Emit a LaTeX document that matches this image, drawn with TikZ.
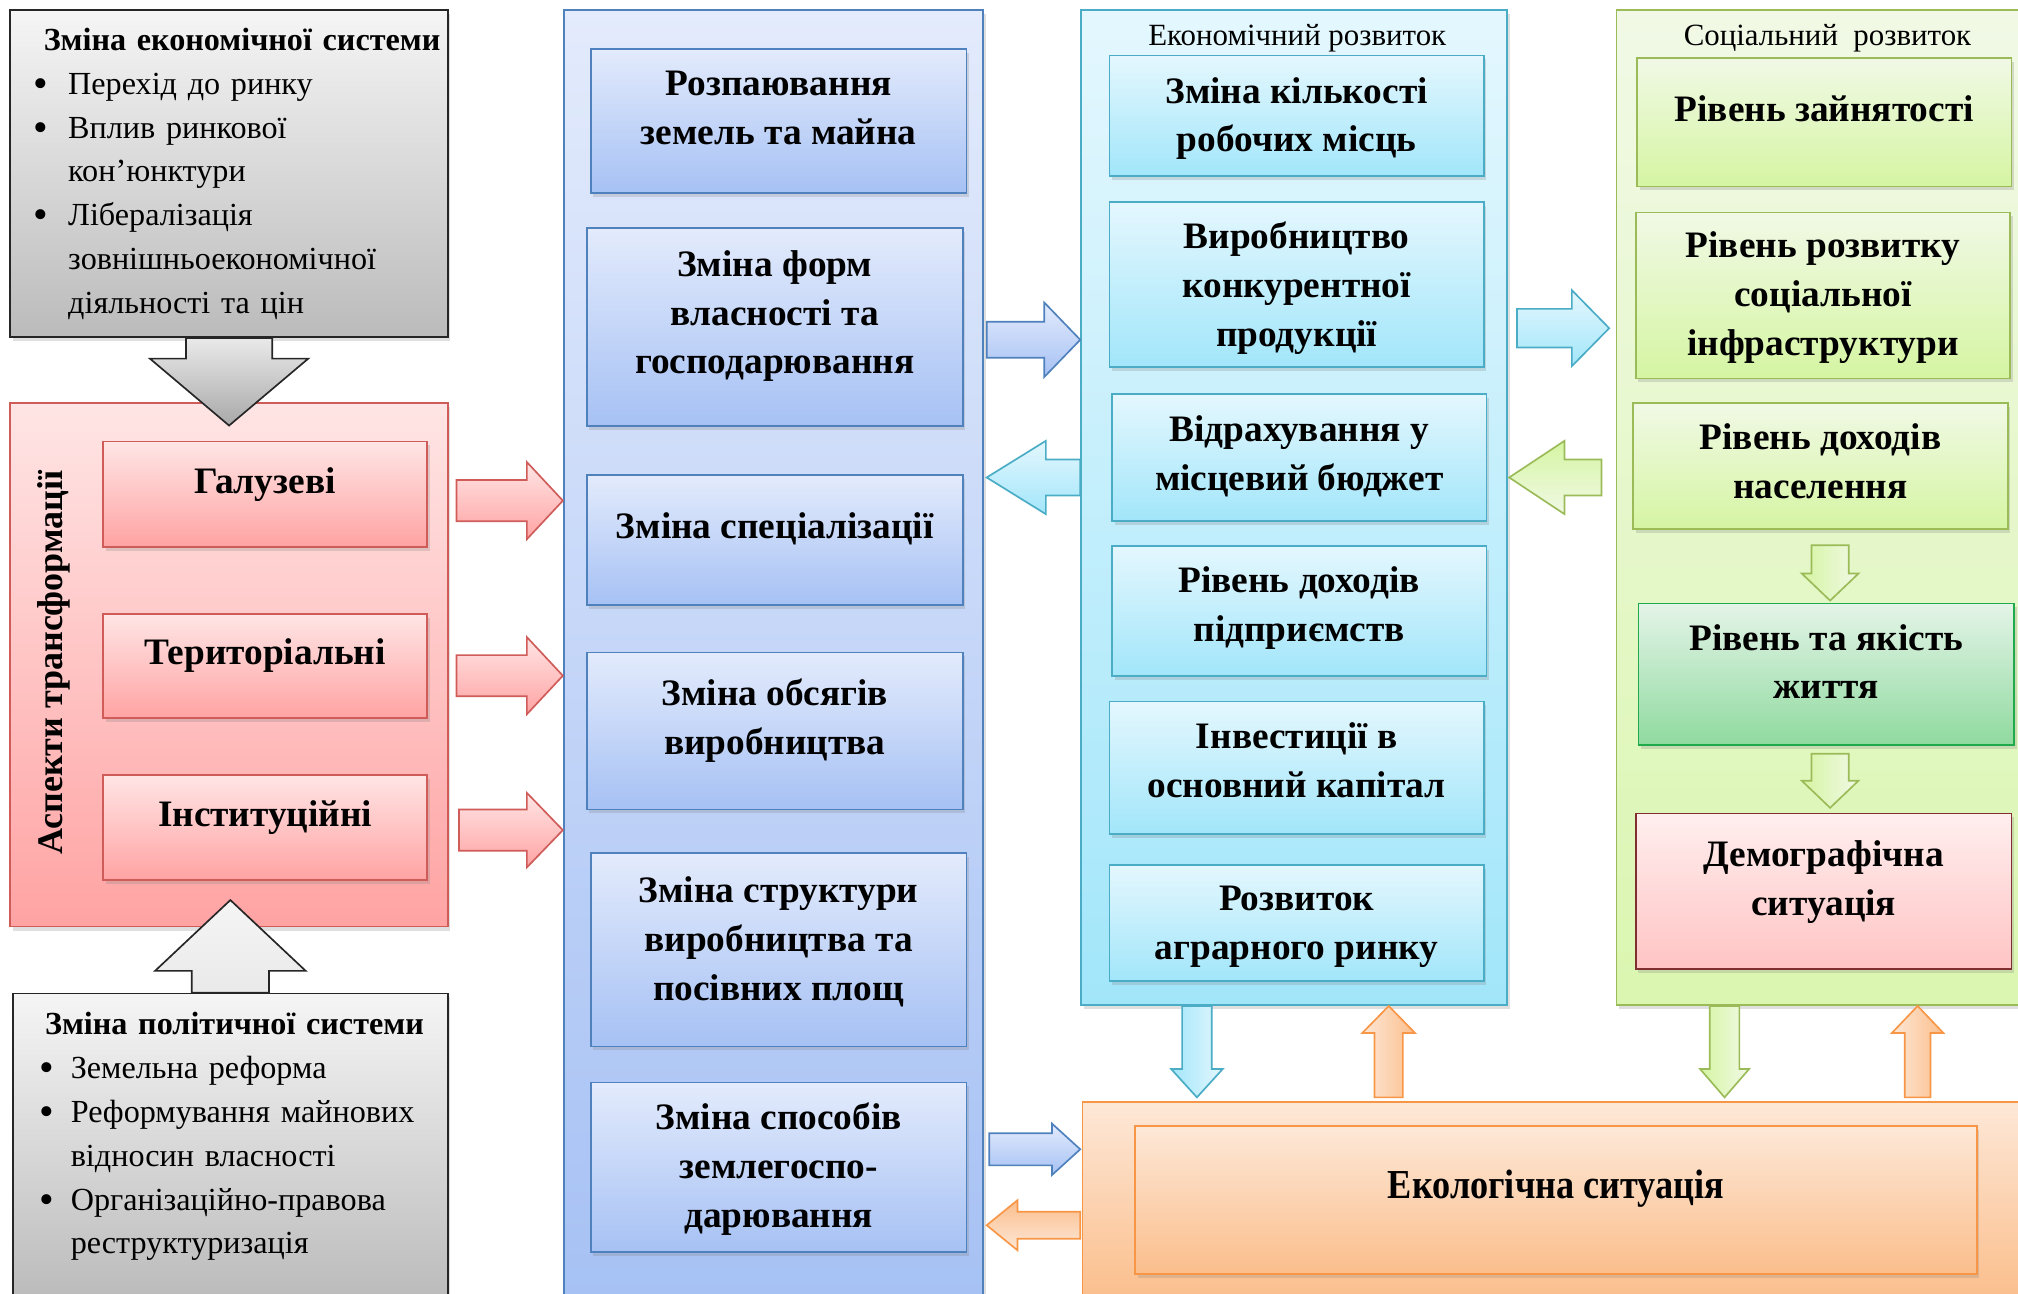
\documentclass[tikz,border=0pt]{standalone}
\usepackage{fontspec}
\setmainfont{Liberation Serif}
\newfontfamily\narrowfont[FakeStretch=0.88]{Liberation Serif}
\usetikzlibrary{calc,shadows}

\definecolor{redtop}{HTML}{FFE5E5}
\definecolor{redbot}{HTML}{FFA3A3}
\definecolor{redline}{HTML}{CF5C59}
\definecolor{graytop}{HTML}{F5F5F5}
\definecolor{graybot}{HTML}{BBBBBB}
\definecolor{grayline}{HTML}{262626}
\definecolor{bluetop}{HTML}{E3EBFC}
\definecolor{bluebot}{HTML}{A6C1F4}
\definecolor{blueline}{HTML}{4F81BD}
\definecolor{cyantop}{HTML}{E4F7FE}
\definecolor{cyanbot}{HTML}{A2E6FA}
\definecolor{cyanline}{HTML}{4BACC6}
\definecolor{greentop}{HTML}{F1F9E6}
\definecolor{greenbot}{HTML}{D5F5A2}
\definecolor{greenline}{HTML}{9BBB59}
\definecolor{lifetop}{HTML}{E4F4E8}
\definecolor{lifebot}{HTML}{8FDA9F}
\definecolor{lifeline}{HTML}{1FAA4C}
\definecolor{demotop}{HTML}{FFEEEE}
\definecolor{demobot}{HTML}{FFC4C4}
\definecolor{demoline}{HTML}{7F2F2F}
\definecolor{orangetop}{HTML}{FDE8D7}
\definecolor{orangebot}{HTML}{FBBE8C}
\definecolor{orangeline}{HTML}{F79646}

\newcommand{\boxfont}{\fontsize{29}{38}\selectfont\bfseries}
\newcommand{\listfont}{\fontsize{25}{34}\selectfont}
\newcommand{\gline}[2]{\makebox[0pt][l]{\hspace*{#1pt}#2}}
\newcommand{\gbullet}[1]{\makebox[#1pt][l]{\raisebox{-2.5pt}{\scalebox{1.3}{\textbullet}}}}
\newcommand{\blockarrow}[6][]{%
  \coordinate (ba) at (#2);
  \coordinate (bb) at (#3);
  \coordinate (bh) at ($(bb)!#6!(ba)$);
  \draw[#1] ($(ba)!#4!90:(bb)$) -- ($(bh)!#4!-90:(ba)$) -- ($(bh)!#5!-90:(ba)$) -- (bb)
    -- ($(bh)!#5!90:(ba)$) -- ($(bh)!#4!90:(ba)$) -- ($(ba)!#4!-90:(bb)$) -- cycle;}

\tikzset{
  dims/.style 2 args={minimum width=#1pt, minimum height=#2pt},
  lift/.style={text depth=#1pt},
  column/.style={rectangle, inner sep=0pt, line width=1.3pt,
    drop shadow={opacity=0.25, shadow xshift=2pt, shadow yshift=-3pt}},
  box/.style={column, align=center, font=\boxfont},
  graybox/.style={column, draw=grayline, top color=graytop, bottom color=graybot,
    align=left, font=\listfont},
  redbox/.style={box, draw=redline, top color=redtop, bottom color=redbot},
  bluebox/.style={box, draw=blueline, top color=bluetop, bottom color=bluebot},
  cyanbox/.style={box, draw=cyanline, top color=cyantop, bottom color=cyanbot},
  greenbox/.style={box, draw=greenline, top color=greentop, bottom color=greenbot},
  arr/.style={line width=1.3pt, line join=miter},
  grayarrow/.style={arr, draw=grayline, top color=graytop!80!graybot, bottom color=graybot!90!black},
  redarrow/.style={arr, draw=redline, top color=redtop, bottom color=redbot},
  bluearrow/.style={arr, draw=blueline, top color=bluetop, bottom color=bluebot},
  cyanarrow/.style={arr, draw=cyanline, top color=cyantop, bottom color=cyanbot},
  greenarrow/.style={arr, draw=greenline, left color=greenbot, right color=greentop},
  orangearrow/.style={arr, draw=orangeline, left color=orangetop, right color=orangebot}
}

\begin{document}
\begin{tikzpicture}[x=1pt, y=-1pt]
\useasboundingbox (0,0) rectangle (1568,1005);
\clip (0,0) rectangle (1568,1005);

\node[column, draw=redline, top color=redtop, bottom color=redbot, dims={340}{407}] (aspects) at (178,516.5) {};
\node[column, draw=blueline, top color=bluetop, bottom color=bluebot, dims={326}{1002}] (changes) at (601,509) {};
\node[column, draw=cyanline, top color=cyantop, bottom color=cyanbot, dims={331}{773}] (econdev) at (1005.5,394.5) {};
\node[column, draw=greenline, top color=greentop, bottom color=greenbot!80!greentop, dims={324}{773}] (socdev) at (1418,394.5) {};
\node[column, draw=orangeline, top color=orangetop, bottom color=orangebot, dims={739}{154}] (ecology) at (1210.5,933) {};

\node[graybox, dims={340}{254}, text width=340pt] (econsys) at (178,135) {%
\gline{26}{\textbf{Зміна економічної системи}}\\
\gline{18}{\gbullet{27}Перехід до ринку}\\
\gline{18}{\gbullet{27}Вплив ринкової}\\
\gline{45}{кон’юнктури}\\
\gline{18}{\gbullet{27}Лібералізація}\\
\gline{45}{зовнішньоекономічної}\\
\gline{45}{діяльності та цін}};
\node[graybox, dims={338}{238}, text width=338pt, lift=191] (politsys) at (179,891) {%
\gline{25}{\textbf{Зміна політичної системи}}\\
\gline{21}{\gbullet{24}Земельна реформа}\\
\gline{21}{\gbullet{24}Реформування майнових}\\
\gline{45}{відносин власності}\\
\gline{21}{\gbullet{24}Організаційно-правова}\\
\gline{45}{реструктуризація}};

\node[rotate=90, font=\fontsize{28}{30}\selectfont\bfseries] (aspectstitle) at (42,515) {Аспекти трансформації};
\node[font=\fontsize{24}{26}\selectfont] (econtitle) at (1008,30) {Економічний розвиток};
\node[font=\fontsize{24}{26}\selectfont] (soctitle) at (1420,30) {Соціальний\ \ розвиток};

\node[redbox, dims={252}{82}, lift=22] (galuz) at (206,384) {Галузеві};
\node[redbox, dims={252}{81}, lift=23] (teryt) at (206,517.5) {Територіальні};
\node[redbox, dims={252}{82}, lift=22] (instyt) at (206,643) {Інституційні};

\node[bluebox, dims={292}{112}, lift=20] (rozp) at (605,94) {Розпаювання\\земель та майна};
\node[bluebox, dims={292}{154}, lift=23] (form) at (602,254) {Зміна форм\\власності та\\господарювання};
\node[bluebox, dims={292}{101}, lift=23] (spec) at (602,419.5) {Зміна спеціалізації};
\node[bluebox, dims={292}{122}, lift=22] (obsyag) at (602,568) {Зміна обсягів\\виробництва};
\node[bluebox, dims={292}{150}, lift=18] (struct) at (605,738) {Зміна структури\\виробництва та\\посівних площ};
\node[bluebox, dims={292}{132}, lift=4] (sposib) at (605,907) {Зміна способів\\землегоспо-\\дарювання};

\node[cyanbox, dims={291}{94}, lift=2] (robmisc) at (1007.5,90) {Зміна кількості\\робочих місць};
\node[cyanbox, dims={291}{128}, lift=0] (konkur) at (1007.5,221) {Виробництво\\конкурентної\\продукції};
\node[cyanbox, dims={291}{99}, lift=7] (vidrakh) at (1009.5,355.5) {Відрахування у\\місцевий бюджет};
\node[cyanbox, dims={291}{101}, lift=10] (dokhpid) at (1009.5,474.5) {Рівень доходів\\підприємств};
\node[cyanbox, dims={291}{103}, lift=12] (invest) at (1007.5,596.5) {Інвестиції в\\основний капітал};
\node[cyanbox, dims={291}{90}, lift=0] (rynok) at (1007.5,717) {Розвиток\\аграрного ринку};

\node[greenbox, dims={291}{100}, lift=22] (zainyat) at (1417.5,95) {Рівень зайнятості};
\node[greenbox, dims={291}{129}, lift=3] (infra) at (1416.5,229.5) {Рівень розвитку\\соціальної\\інфраструктури};
\node[greenbox, dims={291}{98}, lift=7] (dokhnas) at (1414.5,362) {Рівень доходів\\населення};
\node[box, draw=lifeline, top color=lifetop, bottom color=lifebot, dims={292}{110}, lift=20] (life) at (1419,524) {Рівень та якість\\життя};
\node[box, draw=demoline, top color=demotop, bottom color=demobot, dims={292}{121}, lift=21] (demo) at (1417,692.5) {Демографічна\\ситуація};

\node[box, draw=orangeline, top color=orangetop, bottom color=orangebot, dims={654}{115}, lift=25,
  font=\fontsize{32}{38}\selectfont\narrowfont\bfseries] (ecosit) at (1209,932.5) {Екологічна ситуація};

\blockarrow[grayarrow]{econsys.south}{$(econsys.south)+(0,68)$}{33.5pt}{61.5pt}{52pt}
\blockarrow[grayarrow, top color=graytop, bottom color=graytop!80!graybot]{politsys.north}{$(politsys.north)+(0,-72)$}{30pt}{58.5pt}{55pt}
\blockarrow[redarrow]{$(galuz.east)+(22,5)$}{$(galuz.east-|changes.west)+(0,5)$}{16pt}{30pt}{28pt}
\blockarrow[redarrow]{$(teryt.east)+(22,7.5)$}{$(teryt.east-|changes.west)+(0,7.5)$}{16pt}{30pt}{28pt}
\blockarrow[redarrow]{$(instyt.east)+(24,2)$}{$(instyt.east-|changes.west)+(0,2)$}{16pt}{29pt}{28pt}

\blockarrow[bluearrow]{$(changes.east|-form)+(2,10)$}{$(econdev.west|-form)+(0,10)$}{14pt}{29pt}{28pt}
\blockarrow[cyanarrow]{$(econdev.west|-vidrakh)+(0,15.5)$}{$(changes.east|-vidrakh)+(2,15.5)$}{14pt}{28.5pt}{46pt}
\blockarrow[cyanarrow]{$(econdev.east|-konkur)+(7,34)$}{$(socdev.west|-konkur)+(-5,34)$}{15pt}{29.5pt}{29pt}
\blockarrow[greenarrow, top color=greenbot, bottom color=greentop]{$(socdev.west|-vidrakh)+(-11,15.5)$}{$(econdev.east|-vidrakh)+(1,15.5)$}{14pt}{28.5pt}{43pt}
\blockarrow[greenarrow]{$(dokhnas.south)+(7.5,12)$}{$(dokhnas.south)+(7.5,55)$}{14.5pt}{22pt}{21pt}
\blockarrow[greenarrow]{$(life.south)+(3,6)$}{$(life.south)+(3,48)$}{14.5pt}{22pt}{21pt}

\blockarrow[cyanarrow, left color=cyanbot, right color=cyantop]{$(econdev.south)+(-75.5,0)$}{$(econdev.south)+(-75.5,71)$}{11.5pt}{20pt}{22pt}
\blockarrow[orangearrow]{$(econdev.south)+(73.5,71)$}{$(econdev.south)+(73.5,0)$}{11pt}{20.5pt}{21pt}
\blockarrow[greenarrow]{$(socdev.south)+(-78,0)$}{$(socdev.south)+(-78,71)$}{11.5pt}{19pt}{22pt}
\blockarrow[orangearrow]{$(socdev.south)+(72,71)$}{$(socdev.south)+(72,0)$}{10pt}{20pt}{21pt}

\blockarrow[bluearrow]{$(changes.east|-sposib)+(4,-14)$}{$(ecology.west|-sposib)+(-1,-14)$}{12.5pt}{20pt}{22pt}
\blockarrow[orangearrow, top color=orangebot, bottom color=orangetop]{$(ecology.west|-sposib)+(-1,45)$}{$(changes.east|-sposib)+(2,45)$}{10.5pt}{19.5pt}{24pt}
\end{tikzpicture}
\end{document}
